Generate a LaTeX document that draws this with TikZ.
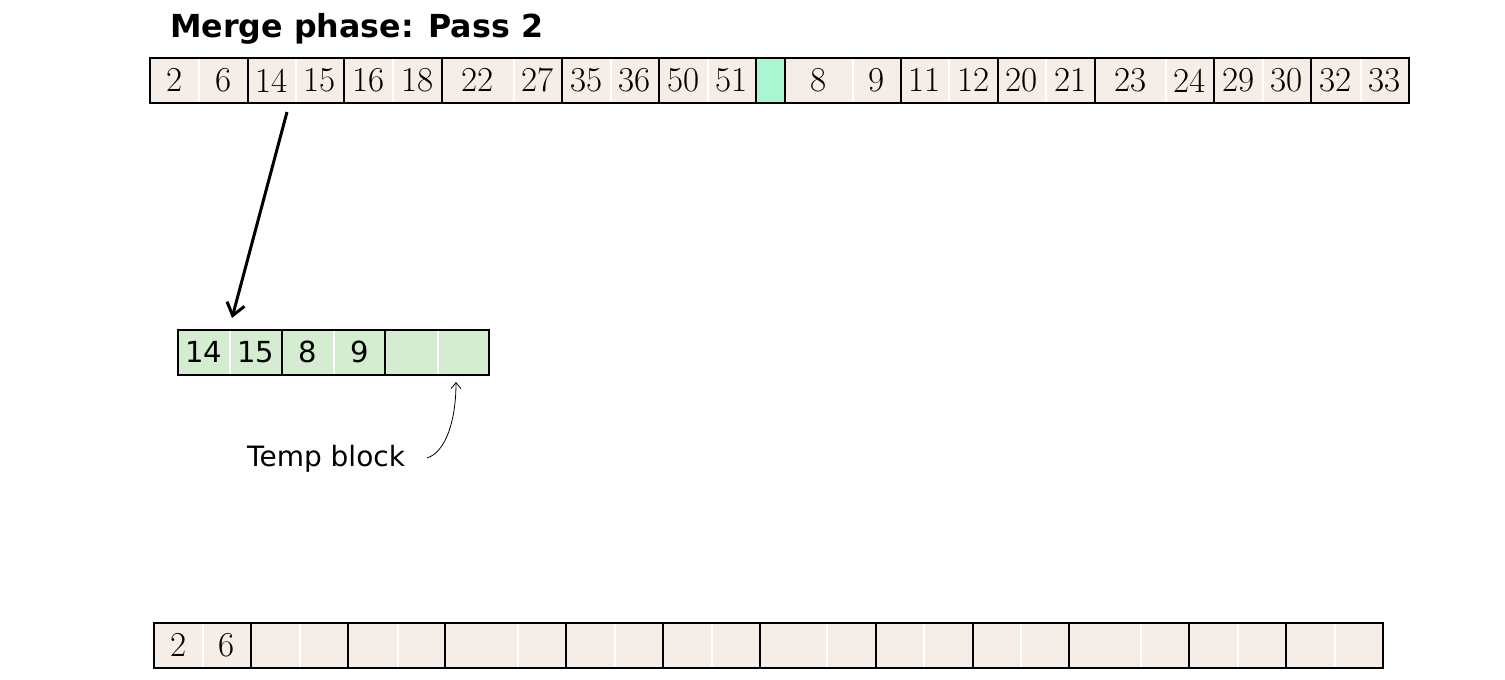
\documentclass[tikz,border=0pt]{standalone}
\usepackage{fontspec}
\newfontfamily\sansf{DejaVu Sans}
\usetikzlibrary{arrows.meta}
\definecolor{beige}{HTML}{F5EDE7}
\definecolor{mint}{HTML}{AAF5D2}
\definecolor{tgreen}{HTML}{D4EDD1}
\begin{document}
\begin{tikzpicture}[x=1pt,y=-1pt,
  half/.style={fill=#1, draw=white, line width=1.6pt, inner sep=0pt, minimum height=45pt, anchor=north west},
  blk/.style={draw=black, line width=2pt, inner sep=0pt, minimum height=45pt, anchor=north west},
  serifnum/.style={font=\fontsize{35}{40}\selectfont},
  sansnum/.style={font=\sansf\fontsize{29}{32}\selectfont},
  bigarrow/.style={line width=3pt, -{Straight Barb[length=12pt,width=18pt]}},
  thinarrow/.style={line width=0.8pt, -{Straight Barb[length=6pt,width=10pt]}}
]
\path[fill=white, use as bounding box] (0,0) rectangle (1505,680);

\node[anchor=base west, inner sep=0pt, font=\sansf\bfseries\fontsize{31.7}{36}\selectfont] (title) at (170,37) {Merge phase: Pass 2};

% top row
\foreach \a/\m/\b/\p/\q [count=\i] in {149/198/247/2/6, 247/295/343/14/15, 343/392/441/16/18, 441/513/561/22/27, 561/610/658/35/36, 658/707/755/50/51, 784/852/900/8/9, 900/948/997/11/12, 997/1045/1094/20/21, 1094/1165/1213/23/24, 1213/1262/1310/29/30, 1310/1360/1408/32/33}{
  \pgfmathsetmacro\wa{\m-\a}
  \pgfmathsetmacro\wb{\b-\m}
  \node[half=beige, serifnum, minimum width=\wa pt] (t\i a) at (\a,57) {\p};
  \node[half=beige, serifnum, minimum width=\wb pt] (t\i b) at (\m,57) {\q};
}
\foreach \a/\b [count=\i] in {149/247, 247/343, 343/441, 441/561, 561/658, 658/755, 784/900, 900/997, 997/1094, 1094/1213, 1213/1310, 1310/1408}{
  \pgfmathsetmacro\wc{\b-\a}
  \node[blk, minimum width=\wc pt] (T\i) at (\a,57) {};
}
\node[blk, fill=mint, minimum width=29pt] (tg) at (755,57) {};

% temp block
\foreach \a/\m/\b/\p/\q [count=\i] in {177/229/281/14/15, 281/333/384/8/9, 384/437/488/{}/{}}{
  \pgfmathsetmacro\wa{\m-\a}
  \pgfmathsetmacro\wb{\b-\m}
  \node[half=tgreen, sansnum, minimum width=\wa pt] (m\i a) at (\a,329) {\p};
  \node[half=tgreen, sansnum, minimum width=\wb pt] (m\i b) at (\m,329) {\q};
}
\foreach \a/\b [count=\i] in {177/281, 281/384, 384/488}{
  \pgfmathsetmacro\wc{\b-\a}
  \node[blk, minimum width=\wc pt] (M\i) at (\a,329) {};
}

% bottom row
\foreach \a/\m/\b/\p/\q [count=\i] in {153/202/250/2/6, 250/299/347/{}/{}, 347/397/444/{}/{}, 444/517/565/{}/{}, 565/614/662/{}/{}, 662/711/759/{}/{}, 759/826/875/{}/{}, 875/923/972/{}/{}, 972/1020/1068/{}/{}, 1068/1140/1188/{}/{}, 1188/1237/1285/{}/{}, 1285/1334/1382/{}/{}}{
  \pgfmathsetmacro\wa{\m-\a}
  \pgfmathsetmacro\wb{\b-\m}
  \node[half=beige, serifnum, minimum width=\wa pt] (b\i a) at (\a,622) {\p};
  \node[half=beige, serifnum, minimum width=\wb pt] (b\i b) at (\m,622) {\q};
}
\foreach \a/\b [count=\i] in {153/250, 250/347, 347/444, 444/565, 565/662, 662/759, 759/875, 875/972, 972/1068, 1068/1188, 1188/1285, 1285/1382}{
  \pgfmathsetmacro\wc{\b-\a}
  \node[blk, minimum width=\wc pt] (B\i) at (\a,622) {};
}

% label
\node[anchor=base west, inner sep=0pt, font=\sansf\fontsize{28}{32}\selectfont] (lbl) at (247,466) {Temp block};

% arrows
\coordinate (a1) at (287,112);
\coordinate (a2) at (232,318);
\draw[bigarrow] (a1) -- (a2);
\coordinate (c1) at (427,458);
\coordinate (c2) at (456,382);
\draw[thinarrow] (c1) .. controls (446,452) and (456,420) .. (c2);
\end{tikzpicture}
\end{document}
